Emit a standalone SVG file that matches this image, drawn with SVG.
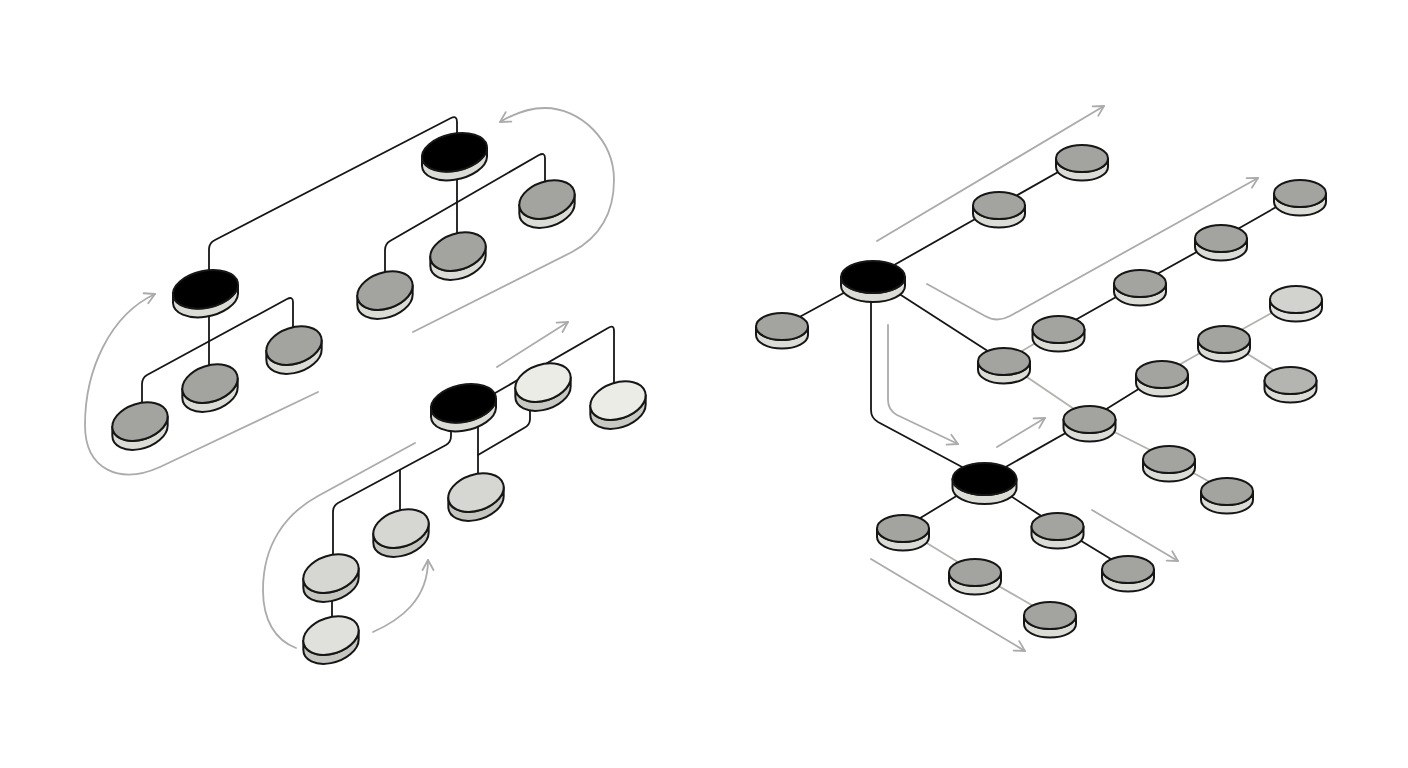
<svg xmlns="http://www.w3.org/2000/svg" xmlns:xlink="http://www.w3.org/1999/xlink" width="1408" height="768" viewBox="0 0 1408 768">
<style>
.bg{fill:#ffffff}
.c{fill:none;stroke:#161616;stroke-width:1.8;stroke-linecap:round;stroke-linejoin:round}
.cg{fill:none;stroke:#b2b2ae;stroke-width:1.8;stroke-linecap:round}
.a{fill:none;stroke:#ababab;stroke-width:1.8;stroke-linecap:round;stroke-linejoin:round}
.st{stroke:#161616;stroke-width:2;stroke-linejoin:round}
.gt{fill:#a3a39f}.gs{fill:#dcdcd6}
.kt{fill:#000000}.ks{fill:#dcdcd6}
.wt{fill:#ecece6}.ws{fill:#c9c9c4}
.lt{fill:#d6d6d2}.ls{fill:#c6c6c1}
.l2t{fill:#e0e0dc}
.pt{fill:#d2d2ce}.ps{fill:#e0e0dc}
.mt{fill:#b4b4b0}
</style>
<defs>
<marker id="ah" viewBox="0 0 14 14" refX="12" refY="7" markerWidth="14" markerHeight="14" markerUnits="userSpaceOnUse" orient="auto">
<path d="M2,1.5 L12,7 L2,12.5" fill="none" stroke="#ababab" stroke-width="1.8" stroke-linecap="round" stroke-linejoin="round"/>
</marker>
<path id="lside" d="M-27.67,5.18 L-27.67,14.18 A28.5 18 -18 0 0 27.67,3.82 L27.67,-5.18 A28.5 18 -18 0 1 -27.67,5.18 Z"/>
<ellipse id="ltop" cx="0" cy="0" rx="28.5" ry="18" transform="rotate(-18)"/>
<path id="kside" d="M-32.5,4.67 L-32.5,13.67 A33 18.5 -12 0 0 32.5,4.33 L32.5,-4.67 A33 18.5 -12 0 1 -32.5,4.67 Z"/>
<ellipse id="ktop" cx="0" cy="0" rx="33" ry="18.5" transform="rotate(-12)"/>
<path id="rside" d="M-26,0 L-26,8.5 A26 13.5 0 0 0 26,8.5 L26,0 A26 13.5 0 0 1 -26,0 Z"/>
<ellipse id="rtop" cx="0" cy="0" rx="26" ry="13.5"/>
<path id="bside" d="M-32,0 L-32,9 A32 16 0 0 0 32,9 L32,0 A32 16 0 0 1 -32,0 Z"/>
<ellipse id="btop" cx="0" cy="0" rx="32" ry="16"/>
</defs>
<rect class="bg" x="0" y="0" width="1408" height="768"/>

<g id="connectors">
<path class="c" d="M457,140 L457,122 Q457,115 451,118 L215,240 Q209,243 209,249 L209,280"/>
<path class="c" d="M457,160 L457,245"/>
<path class="c" d="M385,282 L385,250 Q385,244 390,241 L539,155 Q545,152 545,158 L545,192"/>
<path class="c" d="M209,300 L209,377"/>
<path class="c" d="M142,412 L142,384 Q142,378 147,375 L287,299 Q293,296 293,302 L293,338"/>
<path class="c" d="M490,396 L608,328 Q614,324 614,331 L614,392"/>
<path class="c" d="M451,425 L451,436 Q451,442 446,445 L338,503 Q333,506 333,512 L333,565"/>
<path class="c" d="M400,470 L400,520"/>
<path class="c" d="M478,425 L478,484"/>
<path class="c" d="M478,455 L524,428 Q530,425 530,419 L530,405"/>
<path class="c" d="M332,590 L332,628"/>

<path class="c" d="M873,277 L782,326.5"/>
<path class="c" d="M873,277 L999,205.5 L1082,158.5"/>
<path class="c" d="M873,277 L1004,361.5"/>
<path class="c" d="M1058.5,329.5 L1140,283.5 L1221,238.5 L1300,193.5"/>
<path class="cg" d="M1004,361.5 L1058.5,329.5"/>
<path class="cg" d="M1004,361.5 L1089.5,419.5"/>
<path class="c" d="M871,285 L871,410 Q871,418 878,422 L984.5,479"/>
<path class="c" d="M984.5,479 L1089.5,419.5 L1162,374.5"/>
<path class="cg" d="M1162,374.5 L1224,339.5 L1296,299.5"/>
<path class="cg" d="M1224,339.5 L1290.5,380.5"/>
<path class="cg" d="M1089.5,419.5 L1169,459.5 L1227,491.5"/>
<path class="c" d="M984.5,479 L903,528.5"/>
<path class="c" d="M984.5,479 L1057.5,526.5 L1128,569.5"/>
<path class="cg" d="M903,528.5 L975,572.5 L1050,615.5"/>
</g>

<g id="arrows">
<path class="a" marker-end="url(#ah)" d="M413,332 L572,252 C600,237 614,212 614,180 C614,140 580,108 545,108 C530,108 515,113 500,122"/>
<path class="a" marker-end="url(#ah)" d="M318,392 L160,467 C120,485 85,470 85,425 C85,370 110,315 155,294"/>
<path class="a" marker-end="url(#ah)" d="M497,367 L568,322"/>
<path class="a" d="M415,443 L318,496 C285,514 263,545 263,590 C263,620 275,640 296,648"/>
<path class="a" marker-end="url(#ah)" d="M373,632 C400,620 428,600 428,560"/>
<path class="a" marker-end="url(#ah)" d="M877,241 L1104,106"/>
<path class="a" marker-end="url(#ah)" d="M927,284 L985,316 Q997,323 1010,316 L1258,178"/>
<path class="a" marker-end="url(#ah)" d="M888,325 L888,400 Q888,410 897,415 L958,444"/>
<path class="a" marker-end="url(#ah)" d="M997,447 L1045,418"/>
<path class="a" marker-end="url(#ah)" d="M1092,510 L1178,561"/>
<path class="a" marker-end="url(#ah)" d="M871,559 L1025,651"/>
</g>

<g id="nodeA-root" transform="translate(454.5,152.4)"><use href="#kside" class="st ks"/><use href="#ktop" class="st kt"/></g>
<g id="nodeA-r1" transform="translate(547,199.6)"><use href="#lside" class="st gs"/><use href="#ltop" class="st gt"/></g>
<g id="nodeA-r2" transform="translate(458,251.6)"><use href="#lside" class="st gs"/><use href="#ltop" class="st gt"/></g>
<g id="nodeA-r3" transform="translate(385,290.6)"><use href="#lside" class="st gs"/><use href="#ltop" class="st gt"/></g>
<g id="nodeA-sub" transform="translate(205.5,289.4)"><use href="#kside" class="st ks"/><use href="#ktop" class="st kt"/></g>
<g id="nodeA-s1" transform="translate(294,345.6)"><use href="#lside" class="st gs"/><use href="#ltop" class="st gt"/></g>
<g id="nodeA-s2" transform="translate(210,383.6)"><use href="#lside" class="st gs"/><use href="#ltop" class="st gt"/></g>
<g id="nodeA-s3" transform="translate(140,421.6)"><use href="#lside" class="st gs"/><use href="#ltop" class="st gt"/></g>

<g id="nodeB-root" transform="translate(463.5,403.4)"><use href="#kside" class="st ks"/><use href="#ktop" class="st kt"/></g>
<g id="nodeB-w1" transform="translate(543,382.6)"><use href="#lside" class="st ws"/><use href="#ltop" class="st wt"/></g>
<g id="nodeB-w2" transform="translate(618,400.6)"><use href="#lside" class="st ws"/><use href="#ltop" class="st wt"/></g>
<g id="nodeB-l1" transform="translate(476,492.6)"><use href="#lside" class="st ls"/><use href="#ltop" class="st lt"/></g>
<g id="nodeB-l2" transform="translate(401,528.6)"><use href="#lside" class="st ls"/><use href="#ltop" class="st lt"/></g>
<g id="nodeB-l3" transform="translate(331,573.6)"><use href="#lside" class="st ls"/><use href="#ltop" class="st lt"/></g>
<g id="nodeB-l4" transform="translate(331,635.6)"><use href="#lside" class="st ls"/><use href="#ltop" class="st l2t"/></g>

<g id="nodeC-root" transform="translate(873,277)"><use href="#bside" class="st ks"/><use href="#btop" class="st kt"/></g>
<g id="nodeC-1" transform="translate(782,326.5)"><use href="#rside" class="st gs"/><use href="#rtop" class="st gt"/></g>
<g id="nodeC-2" transform="translate(999,205.5)"><use href="#rside" class="st gs"/><use href="#rtop" class="st gt"/></g>
<g id="nodeC-3" transform="translate(1082,158.5)"><use href="#rside" class="st gs"/><use href="#rtop" class="st gt"/></g>
<g id="nodeC-4" transform="translate(1300,193.5)"><use href="#rside" class="st gs"/><use href="#rtop" class="st gt"/></g>
<g id="nodeC-5" transform="translate(1221,238.5)"><use href="#rside" class="st gs"/><use href="#rtop" class="st gt"/></g>
<g id="nodeC-6" transform="translate(1140,283.5)"><use href="#rside" class="st gs"/><use href="#rtop" class="st gt"/></g>
<g id="nodeC-7" transform="translate(1058.5,329.5)"><use href="#rside" class="st gs"/><use href="#rtop" class="st gt"/></g>
<g id="nodeC-8" transform="translate(1004,361.5)"><use href="#rside" class="st gs"/><use href="#rtop" class="st gt"/></g>
<g id="nodeC-9" transform="translate(1296,299.5)"><use href="#rside" class="st ps"/><use href="#rtop" class="st pt"/></g>
<g id="nodeC-10" transform="translate(1224,339.5)"><use href="#rside" class="st gs"/><use href="#rtop" class="st gt"/></g>
<g id="nodeC-11" transform="translate(1290.5,380.5)"><use href="#rside" class="st gs"/><use href="#rtop" class="st mt"/></g>
<g id="nodeC-12" transform="translate(1162,374.5)"><use href="#rside" class="st gs"/><use href="#rtop" class="st gt"/></g>
<g id="nodeC-13" transform="translate(1089.5,419.5)"><use href="#rside" class="st gs"/><use href="#rtop" class="st gt"/></g>
<g id="nodeC-14" transform="translate(1169,459.5)"><use href="#rside" class="st gs"/><use href="#rtop" class="st gt"/></g>
<g id="nodeC-15" transform="translate(1227,491.5)"><use href="#rside" class="st gs"/><use href="#rtop" class="st gt"/></g>
<g id="nodeD-root" transform="translate(984.5,479)"><use href="#bside" class="st ks"/><use href="#btop" class="st kt"/></g>
<g id="nodeD-1" transform="translate(903,528.5)"><use href="#rside" class="st gs"/><use href="#rtop" class="st gt"/></g>
<g id="nodeD-2" transform="translate(975,572.5)"><use href="#rside" class="st gs"/><use href="#rtop" class="st gt"/></g>
<g id="nodeD-3" transform="translate(1050,615.5)"><use href="#rside" class="st gs"/><use href="#rtop" class="st gt"/></g>
<g id="nodeD-4" transform="translate(1057.5,526.5)"><use href="#rside" class="st gs"/><use href="#rtop" class="st gt"/></g>
<g id="nodeD-5" transform="translate(1128,569.5)"><use href="#rside" class="st gs"/><use href="#rtop" class="st gt"/></g>
</svg>
